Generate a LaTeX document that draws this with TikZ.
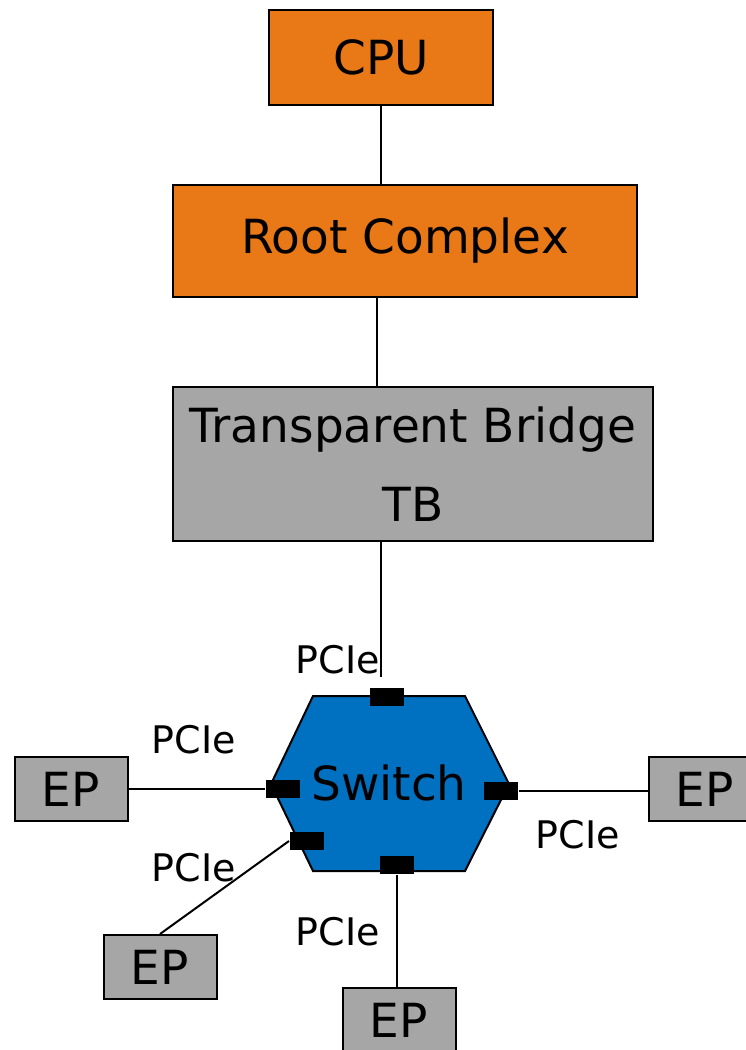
\documentclass[tikz,border=0pt]{standalone}
\usepackage{fontspec}
\setmainfont{DejaVu Sans}
\usepackage{tikz}

\definecolor{rcorange}{HTML}{E97817}
\definecolor{boxgray}{HTML}{A6A6A6}
\definecolor{swblue}{HTML}{0070C0}

\begin{document}
\begin{tikzpicture}[x=1pt, y=-1pt, line width=2pt,
        blk/.style={draw, rectangle, inner sep=0pt, font=\fontsize{47}{79}\selectfont, align=center},
        ep/.style={blk, fill=boxgray, minimum width=113pt, minimum height=64pt},
        port/.style={fill=black, minimum width=34pt, minimum height=18pt, inner sep=0pt},
        lbl/.style={font=\fontsize{38}{40}\selectfont, inner sep=0pt}]
    \useasboundingbox (0,0) rectangle (745,1050);

    % host side
    \node[blk, fill=rcorange, minimum width=224pt, minimum height=95pt] (CPU) at (381,57.5) {CPU};
    \node[blk, fill=rcorange, minimum width=464pt, minimum height=112pt] (RC) at (405,241) {Root Complex};
    \node[blk, fill=boxgray, minimum width=480pt, minimum height=154pt] (TB) at (413,464) {Transparent Bridge\\TB};
    \draw (CPU.south) -- (RC.north -| CPU.south);
    \draw (RC.south -| 377,0) -- (TB.north -| 377,0);

    % switch with its ports
    \draw[fill=swblue] (313,696) -- (465,696) -- (509,784) -- (465,871) -- (313,871) -- (271,784) -- cycle;
    \node[blk, draw=none] (SW) at (389,783) {Switch};
    \node[port] (pT) at (387,697) {};
    \node[port] (pL) at (283,789) {};
    \node[port] (pR) at (501,791) {};
    \node[port] (pLL) at (307,841) {};
    \node[port] (pB) at (397,865) {};
    \coordinate (up) at (381,677);
    \draw (TB.south -| up) -- (up);

    % endpoints
    \node[ep] (EPl) at (71,789) {EP};
    \node[ep] (EPr) at (705,789) {EP};
    \node[ep] (EPll) at (160,967) {EP};
    \node[ep] (EPb) at (399,1020) {EP};
    \draw (EPl.east) -- (pL.west);
    \draw (pR.east) -- (pR.east -| EPr.west);
    \draw (pLL.west) -- (EPll.north);
    \draw (pB.south) -- (pB.south |- EPb.north);

    % link labels
    \node[lbl] (lT) at (338,660) {PCIe};
    \node[lbl] (lL) at (194,740) {PCIe};
    \node[lbl] (lR) at (578,835) {PCIe};
    \node[lbl] (lLL) at (194,868) {PCIe};
    \node[lbl] (lB) at (338,932) {PCIe};
\end{tikzpicture}
\end{document}
